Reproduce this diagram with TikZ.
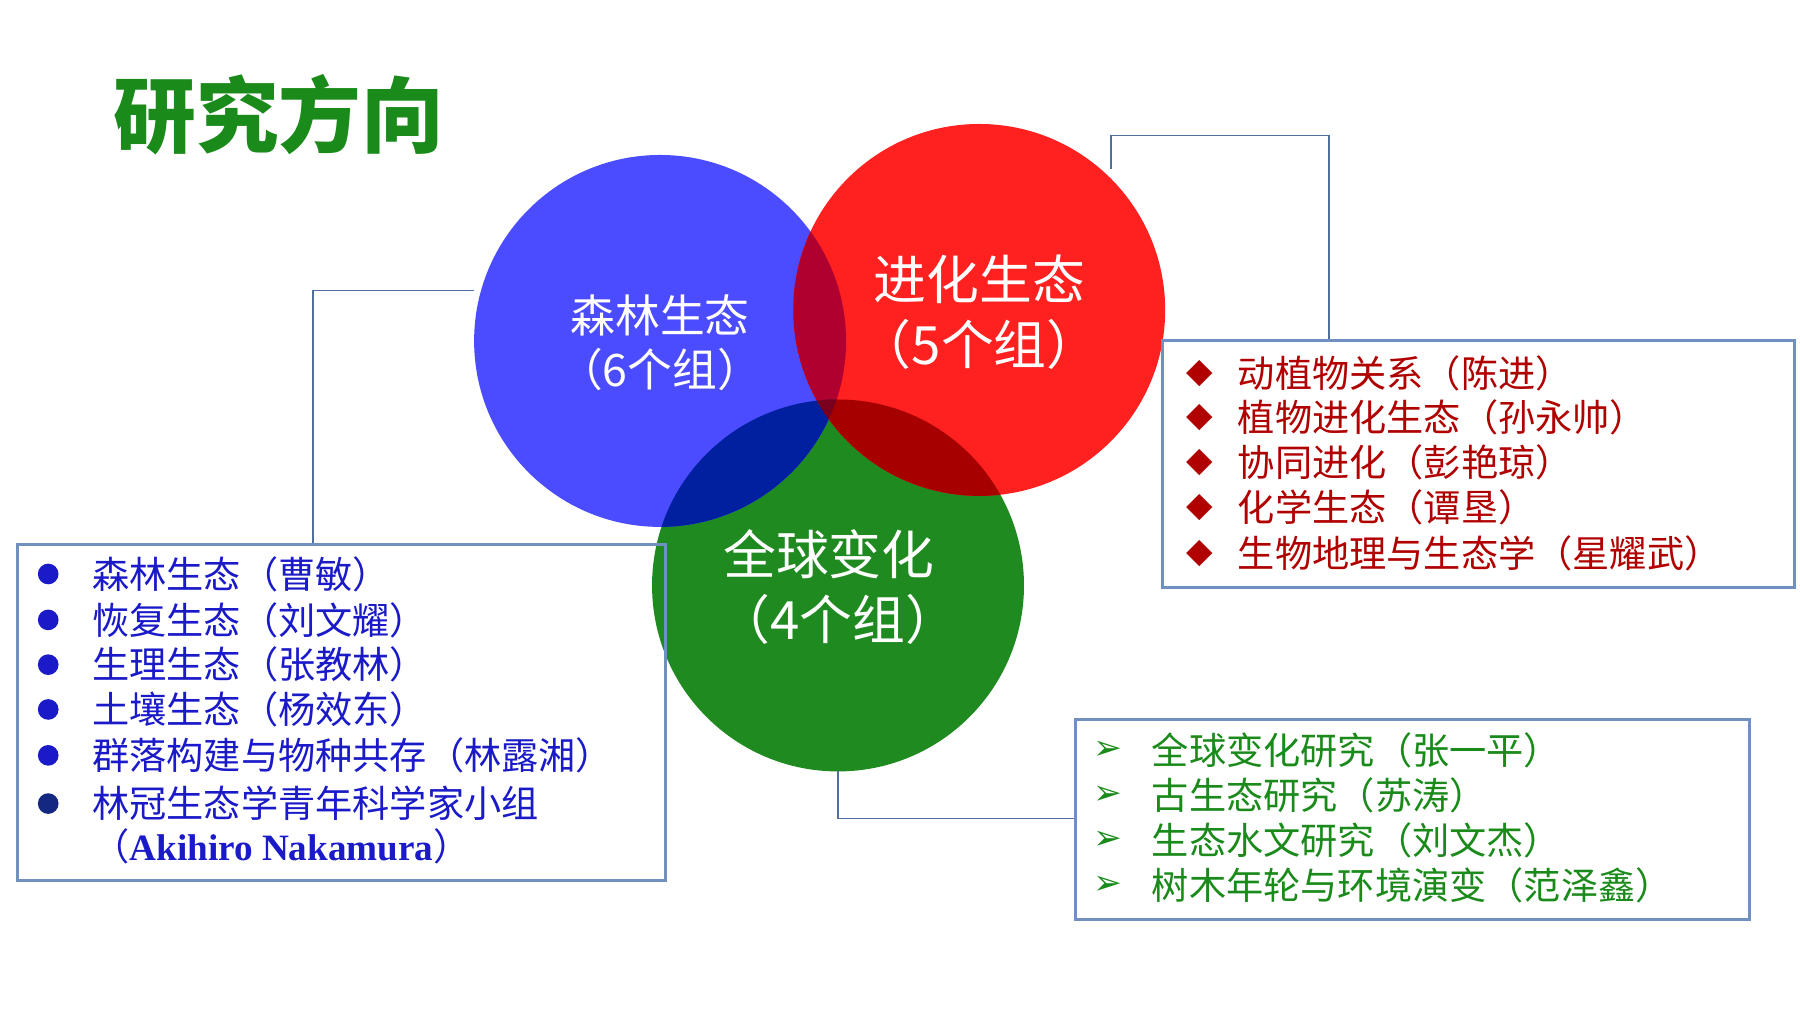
\documentclass[tikz,border=0pt]{standalone}
\usepackage{fontspec}
\setmainfont{Liberation Serif}
\newfontfamily\cjk{Noto Sans CJK SC}
\newfontfamily\sym{DejaVu Sans}
\begin{document}
\begin{tikzpicture}[x=0.5pt,y=-0.5pt,
  boxline/.style={draw=boxc,line width=1.3pt},
  conn/.style={draw=connc,line width=0.8pt},
  ltxt/.style={anchor=west,inner sep=0pt,font=\cjk\fontsize{16.2}{18}\selectfont},
  ctxt/.style={text=white,font=\cjk\fontsize{19.5}{22}\selectfont},
  btxt/.style={text=white,font=\cjk\fontsize{23}{26}\selectfont}]
\definecolor{boxc}{HTML}{7090C0}
\definecolor{connc}{HTML}{4F6F9F}
\definecolor{cb}{HTML}{4B4BFF}
\definecolor{cr}{HTML}{FF2020}
\definecolor{cg}{HTML}{1F8A1F}
\definecolor{tb}{HTML}{1A1AC8}
\definecolor{tr}{HTML}{B00000}
\definecolor{tg}{HTML}{1A8A1A}
\definecolor{obr}{HTML}{B00030}
\definecolor{obg}{HTML}{0020A0}
\definecolor{org}{HTML}{A60000}
\definecolor{oall}{HTML}{78001E}
\definecolor{navy}{HTML}{142882}
\useasboundingbox (0,0) rectangle (1568,882);
\fill[white] (0,0) rectangle (1568,882);
\node[text=tg,font=\cjk\bfseries\fontsize{36}{40}\selectfont] (title) at (243,100) {研究方向};
% circles
\coordinate (B) at (575,297);
\coordinate (R) at (853,270);
\coordinate (G) at (730,510);
\fill[cg] (G) circle[radius=81pt];
\fill[cb] (B) circle[radius=81pt];
\fill[cr] (R) circle[radius=81pt];
\begin{scope}\clip (B) circle[radius=81pt]; \fill[obr] (R) circle[radius=81pt];\end{scope}
\begin{scope}\clip (B) circle[radius=81pt]; \fill[obg] (G) circle[radius=81pt];\end{scope}
\begin{scope}\clip (R) circle[radius=81pt]; \fill[org] (G) circle[radius=81pt];\end{scope}
\begin{scope}\clip (R) circle[radius=81pt]; \clip (B) circle[radius=81pt]; \fill[oall] (G) circle[radius=81pt];\end{scope}
\node[ctxt] (b1) at (575,275) {森林生态};
\node[ctxt] (b2) at (575,322) {（6个组）};
\node[btxt] (r1) at (853,243) {进化生态};
\node[btxt] (r2) at (853,300) {（5个组）};
\node[btxt] (g1) at (722,483) {全球变化};
\node[btxt] (g2) at (730,540) {（4个组）};
% boxes
\node[boxline,minimum width=282.5pt,minimum height=146.5pt,inner sep=0pt] (lbox) at (297.5,620.5) {};
\node[boxline,minimum width=275pt,minimum height=107.5pt,inner sep=0pt] (rbox) at (1288,404.5) {};
\node[boxline,minimum width=293.5pt,minimum height=87pt,inner sep=0pt] (gbox) at (1230.5,714) {};
% connectors
\coordinate (cb1) at (413,253); \coordinate (cb2) at (273,253);
\draw[conn] (cb1) -- (cb2) -- (cb2 |- lbox.north);
\coordinate (cr1) at (968,147); \coordinate (cr2) at (968,118); \coordinate (cr3) at (1158,118);
\draw[conn] (cr1) -- (cr2) -- (cr3) -- (cr3 |- rbox.north);
\coordinate (cg1) at (730,672); \coordinate (cg2) at (730,713);
\draw[conn] (cg1) -- (cg2) -- (cg2 -| gbox.west);
% left list
\foreach \t/\y [count=\i] in {森林生态（曹敏）/500,恢复生态（刘文耀）/540,生理生态（张教林）/579,土壤生态（杨效东）/618,群落构建与物种共存（林露湘）/658}{
  \fill[tb] (42,\y) circle[radius=4.5pt];
  \node[ltxt,text=tb] (l\i) at (80,\y) {\t};
}
\fill[navy] (42,700) circle[radius=4.5pt];
\node[ltxt,text=tb] (l6) at (80,700) {林冠生态学青年科学家小组};
\node[ltxt,text=tb] (l7) at (80,737) {\cjk（\textrm{\bfseries Akihiro Nakamura}）};
% right list
\foreach \t/\y [count=\i] in {动植物关系（陈进）/325,植物进化生态（孙永帅）/364,协同进化（彭艳琼）/403,化学生态（谭垦）/442,生物地理与生态学（星耀武）/482}{
  \node[text=tr,font=\sym\fontsize{15}{18}\selectfont] (rd\i) at (1045,\y) {◆};
  \node[ltxt,text=tr] (r\i) at (1078,\y) {\t};
}
% green list
\foreach \t/\y [count=\i] in {全球变化研究（张一平）/654,古生态研究（苏涛）/693,生态水文研究（刘文杰）/732,树木年轮与环境演变（范泽鑫）/771}{
  \node[text=tg,font=\sym\bfseries\fontsize{15}{18}\selectfont] (ga\i) at (965,\y) {➢};
  \node[ltxt,text=tg] (gi\i) at (1003,\y) {\t};
}
\end{tikzpicture}
\end{document}
